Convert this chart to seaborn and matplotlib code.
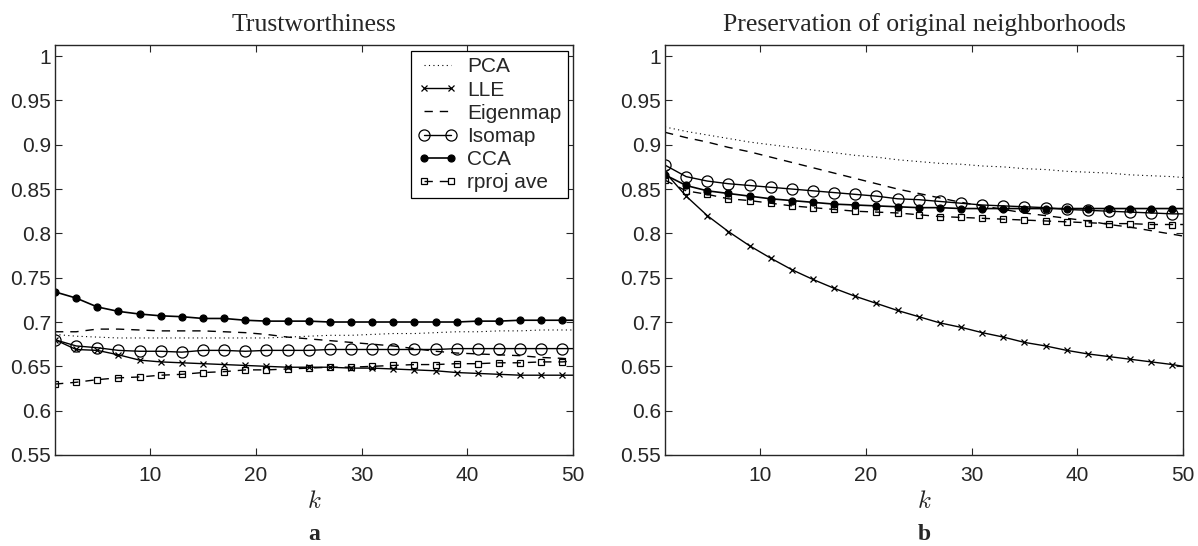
import matplotlib
matplotlib.use("Agg")
import matplotlib.pyplot as plt
import seaborn as sns
import numpy as np

# k values: odd k 1..49 carry markers, k=50 closes the line
k = [1, 3, 5, 7, 9, 11, 13, 15, 17, 19, 21, 23, 25, 27, 29, 31, 33, 35, 37, 39, 41, 43, 45, 47, 49, 50]

methods = ["PCA", "LLE", "Eigenmap", "Isomap", "CCA", "rproj ave"]

# (a) Trustworthiness
trust_pca = [0.686, 0.684, 0.683, 0.682, 0.682, 0.682, 0.682, 0.682, 0.682, 0.682, 0.682, 0.683, 0.684,
             0.685, 0.685, 0.686, 0.687, 0.687, 0.688, 0.689, 0.689, 0.690, 0.690, 0.691, 0.691, 0.691]
trust_lle = [0.680, 0.669, 0.668, 0.663, 0.657, 0.655, 0.654, 0.653, 0.652, 0.651, 0.650, 0.649, 0.649,
             0.649, 0.648, 0.648, 0.647, 0.646, 0.645, 0.643, 0.642, 0.641, 0.640, 0.640, 0.640, 0.640]
trust_eig = [0.689, 0.689, 0.692, 0.692, 0.691, 0.690, 0.690, 0.690, 0.689, 0.688, 0.686, 0.683, 0.681,
             0.679, 0.677, 0.675, 0.673, 0.670, 0.667, 0.665, 0.664, 0.663, 0.662, 0.660, 0.659, 0.658]
trust_iso = [0.680, 0.673, 0.671, 0.668, 0.667, 0.667, 0.666, 0.668, 0.668, 0.667, 0.668, 0.668, 0.668,
             0.669, 0.669, 0.669, 0.669, 0.669, 0.669, 0.670, 0.670, 0.670, 0.670, 0.670, 0.670, 0.670]
trust_cca = [0.734, 0.727, 0.717, 0.712, 0.709, 0.707, 0.706, 0.704, 0.704, 0.702, 0.701, 0.701, 0.701,
             0.700, 0.700, 0.700, 0.700, 0.700, 0.700, 0.700, 0.701, 0.701, 0.702, 0.702, 0.702, 0.702]
trust_rpj = [0.630, 0.632, 0.635, 0.637, 0.638, 0.640, 0.641, 0.643, 0.644, 0.646, 0.646, 0.647, 0.648,
             0.649, 0.649, 0.650, 0.651, 0.652, 0.652, 0.653, 0.653, 0.654, 0.654, 0.655, 0.655, 0.656]

# (b) Preservation of original neighborhoods
pres_pca = [0.920, 0.915, 0.911, 0.907, 0.903, 0.900, 0.897, 0.894, 0.891, 0.888, 0.886, 0.883, 0.881,
            0.879, 0.878, 0.876, 0.875, 0.873, 0.872, 0.870, 0.869, 0.868, 0.866, 0.865, 0.864, 0.863]
pres_lle = [0.869, 0.842, 0.820, 0.802, 0.786, 0.772, 0.759, 0.748, 0.738, 0.729, 0.721, 0.713, 0.706,
            0.699, 0.694, 0.688, 0.683, 0.677, 0.673, 0.668, 0.664, 0.661, 0.658, 0.655, 0.652, 0.650]
pres_eig = [0.914, 0.908, 0.903, 0.897, 0.892, 0.886, 0.880, 0.874, 0.868, 0.862, 0.856, 0.850, 0.845,
            0.840, 0.835, 0.831, 0.827, 0.823, 0.820, 0.817, 0.814, 0.810, 0.807, 0.803, 0.799, 0.797]
pres_iso = [0.877, 0.864, 0.859, 0.856, 0.854, 0.852, 0.850, 0.848, 0.846, 0.844, 0.842, 0.839, 0.838,
            0.836, 0.834, 0.832, 0.831, 0.830, 0.829, 0.827, 0.826, 0.825, 0.824, 0.823, 0.822, 0.822]
pres_cca = [0.866, 0.854, 0.848, 0.845, 0.842, 0.839, 0.837, 0.835, 0.833, 0.832, 0.831, 0.830, 0.829,
            0.829, 0.828, 0.828, 0.828, 0.828, 0.828, 0.828, 0.828, 0.828, 0.828, 0.828, 0.828, 0.828]
pres_rpj = [0.860, 0.848, 0.844, 0.839, 0.837, 0.834, 0.831, 0.829, 0.827, 0.825, 0.824, 0.823, 0.821,
            0.819, 0.818, 0.817, 0.816, 0.815, 0.814, 0.813, 0.812, 0.811, 0.811, 0.810, 0.810, 0.810]

titles = ["Trustworthiness", "Preservation of original neighborhoods"]
panel_labels = ["a", "b"]
yticks = [0.55, 0.6, 0.65, 0.7, 0.75, 0.8, 0.85, 0.9, 0.95, 1]
ytick_labels = ["0.55", "0.6", "0.65", "0.7", "0.75", "0.8", "0.85", "0.9", "0.95", "1"]
xticks = [10, 20, 30, 40, 50]

sns.set_style("ticks")
plt.rcParams["font.family"] = ["Liberation Sans", "DejaVu Sans"]
plt.rcParams["mathtext.fontset"] = "cm"

# line style per method: linestyle, marker, marker size, face colour, linewidth
styles = {
    "PCA":       dict(linestyle=(0, (1, 3)), marker=None, ms=0, mfc="none", lw=0.8),
    "LLE":       dict(linestyle="-", marker="x", ms=4, mfc="none", lw=1.0),
    "Eigenmap":  dict(linestyle=(0, (6, 5)), marker=None, ms=0, mfc="none", lw=1.0),
    "Isomap":    dict(linestyle="-", marker="o", ms=8, mfc="none", lw=1.0),
    "CCA":       dict(linestyle="-", marker="o", ms=5, mfc="k", lw=1.2),
    "rproj ave": dict(linestyle=(0, (6, 5)), marker="s", ms=4.5, mfc="none", lw=1.0),
}

panels = [
    [trust_pca, trust_lle, trust_eig, trust_iso, trust_cca, trust_rpj],
    [pres_pca, pres_lle, pres_eig, pres_iso, pres_cca, pres_rpj],
]

fig = plt.figure(figsize=(11.98, 5.46), dpi=100)
axes = [fig.add_axes([0.0459, 0.1667, 0.4324, 0.7509]),
        fig.add_axes([0.5551, 0.1667, 0.4324, 0.7509])]

for p, ax in enumerate(axes):
    for name, vals in zip(methods, panels[p]):
        st = styles[name]
        kw = dict(linestyle=st["linestyle"], lw=st["lw"])
        if st["marker"]:
            kw.update(marker=st["marker"], markersize=st["ms"], markerfacecolor=st["mfc"],
                      markeredgecolor="k", markeredgewidth=0.9, markevery=slice(0, 25))
        sns.lineplot(x=k, y=vals, ax=ax, color="k", errorbar=None, legend=False,
                     label=name if p == 0 else None, **kw)
    ax.set_xlim(1, 50)
    ax.set_ylim(0.55, 1.0125)
    ax.set_xticks(xticks)
    ax.set_xticklabels([str(t) for t in xticks], fontsize=15)
    ax.set_yticks(yticks)
    ax.set_yticklabels(ytick_labels, fontsize=15)
    ax.tick_params(direction="in", length=5, width=0.8, top=True, right=True)
    ax.tick_params(axis="x", pad=8)
    ax.tick_params(axis="y", pad=3)
    for sp in ax.spines.values():
        sp.set_visible(True)
        sp.set_linewidth(1.0)
    ax.set_title(titles[p], family="Liberation Serif", fontsize=18.5, pad=10)
    ax.set_xlabel("$k$", fontsize=18, labelpad=3)
    ax.set_ylabel("")
    ax.text(0.5, -0.168, panel_labels[p], transform=ax.transAxes, ha="center", va="top",
            family="Liberation Serif", fontweight="bold", fontsize=17)

leg = axes[0].legend(loc="upper right", bbox_to_anchor=(0.99, 0.985), fontsize=15,
                     frameon=True, fancybox=False, edgecolor="k", framealpha=1, numpoints=2,
                     labelspacing=0.2, borderpad=0.3, handlelength=1.9, handletextpad=0.5,
                     borderaxespad=0)
leg.get_frame().set_linewidth(0.9)

fig.savefig("out.png", dpi=100)
